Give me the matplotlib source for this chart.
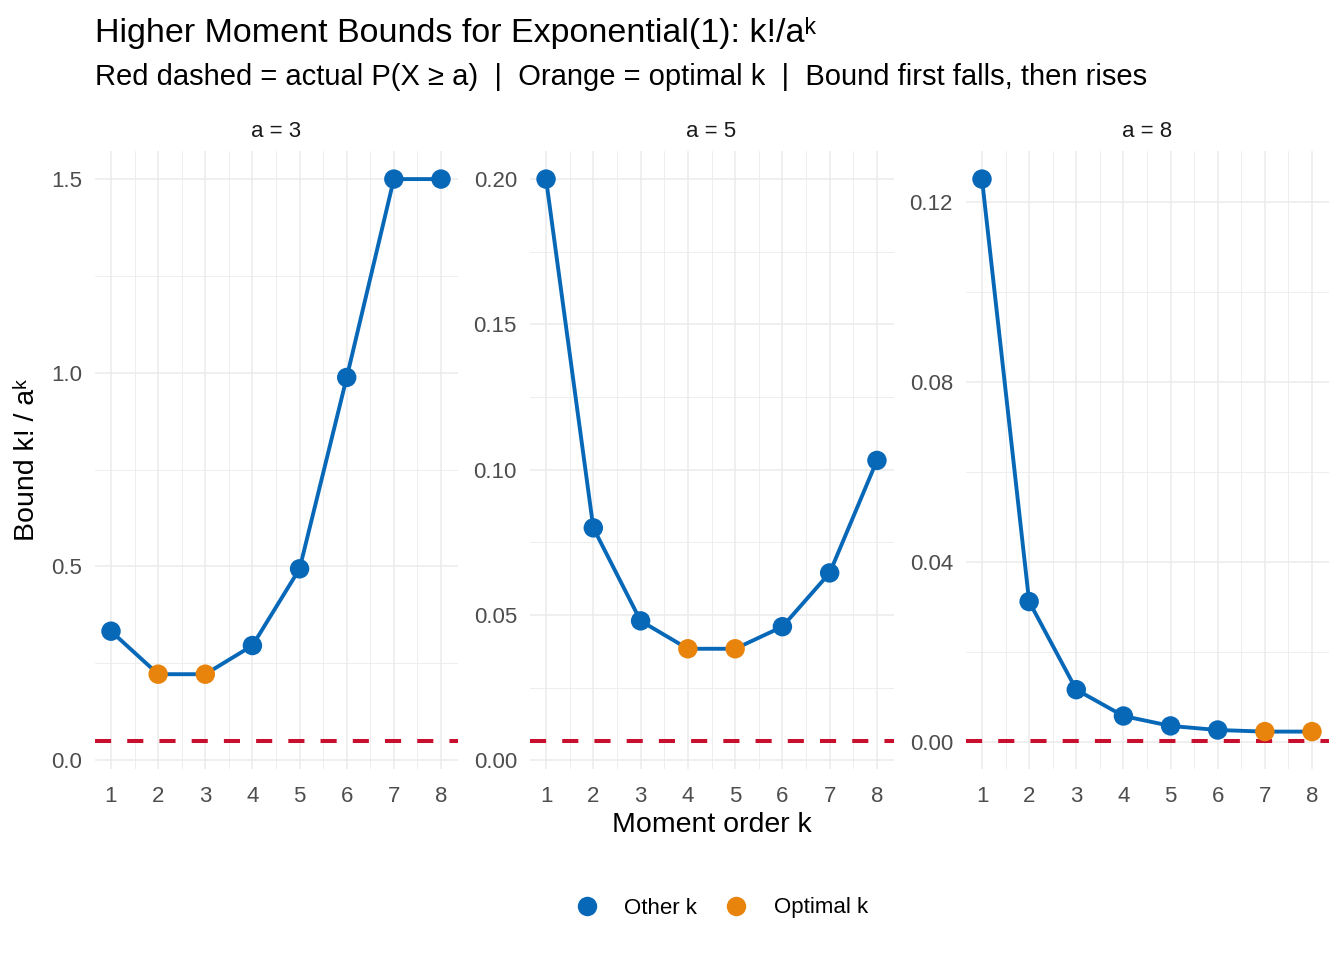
import matplotlib
matplotlib.use("Agg")
import matplotlib.pyplot as plt
from matplotlib.lines import Line2D
from matplotlib.ticker import FixedLocator

plt.rcParams['font.family'] = ['Liberation Sans', 'DejaVu Sans']

# data
k_values = [1, 2, 3, 4, 5, 6, 7, 8]
a_values = [3, 5, 8]
bound_a3 = [0.333, 0.222, 0.222, 0.296, 0.494, 0.988, 1.5, 1.5]
bound_a5 = [0.2, 0.08, 0.048, 0.0384, 0.0384, 0.046, 0.0645, 0.1032]
bound_a8 = [0.125, 0.03125, 0.0117, 0.00586, 0.00366, 0.00275, 0.0024, 0.0024]
actual_prob = [0.0498, 0.0067, 0.000335]
optimal_a3 = [2, 3]
optimal_a5 = [4, 5]
optimal_a8 = [7, 8]
y_ticks = [[0.0, 0.5, 1.0, 1.5], [0.0, 0.05, 0.10, 0.15, 0.20], [0.0, 0.04, 0.08, 0.12]]
y_fmt = ["{:.1f}", "{:.2f}", "{:.2f}"]

BLUE = "#0868B8"
ORANGE = "#E8830C"
RED = "#C8102E"
GRID = "#EBEBEB"

W, H = 1344, 960
fig = plt.figure(figsize=(W / 100, H / 100), dpi=100)

panels_x = [(94.5, 457.5), (529.5, 893.5), (965.5, 1328.5)]
top, bottom = 151, 769

bounds = [bound_a3, bound_a5, bound_a8]
optimal = [optimal_a3, optimal_a5, optimal_a8]

for i, (x0, x1) in enumerate(panels_x):
    ax = fig.add_axes([x0 / W, (H - bottom) / H, (x1 - x0) / W, (bottom - top) / H])
    vals = bounds[i]
    lo = min(vals + [actual_prob[i]])
    hi = max(vals)
    pad = 0.05 * (hi - lo)
    ax.set_ylim(lo - pad, hi + pad)
    ax.set_xlim(1 - 0.35, 8 + 0.35)

    ax.set_xticks(k_values)
    ax.set_xticklabels([str(k) for k in k_values])
    ax.xaxis.set_minor_locator(FixedLocator([k + 0.5 for k in k_values[:-1]]))
    yt = y_ticks[i]
    ax.set_yticks(yt)
    ax.set_yticklabels([y_fmt[i].format(v) for v in yt])
    step = yt[1] - yt[0]
    ax.yaxis.set_minor_locator(FixedLocator([v + step / 2 for v in yt]))

    ax.grid(which='major', color=GRID, lw=1.1)
    ax.grid(which='minor', color=GRID, lw=0.6)
    ax.set_axisbelow(True)
    for s in ax.spines.values():
        s.set_visible(False)
    ax.tick_params(which='both', length=0)
    ax.tick_params(axis='x', pad=12, labelsize=16, labelcolor="#4D4D4D")
    ax.tick_params(axis='y', pad=9, labelsize=16, labelcolor="#4D4D4D")

    ax.axhline(actual_prob[i], color=RED, lw=2.9, dashes=(4, 4), zorder=2)
    ax.plot(k_values, vals, color=BLUE, lw=2.8, zorder=3)
    cols = [ORANGE if k in optimal[i] else BLUE for k in k_values]
    ax.scatter(k_values, vals, s=14 ** 2, c=cols, zorder=4, linewidths=0)

    ax.set_title(f"a = {a_values[i]}", fontsize=16, pad=10, color="#1A1A1A")

fig.text(95 / W, 1 - 42 / H, "Higher Moment Bounds for Exponential(1): k!/aᵏ",
         fontsize=24.5, ha='left', va='baseline')
fig.text(95 / W, 1 - 85 / H,
         "Red dashed = actual P(X ≥ a)  |  Orange = optimal k  |  Bound first falls, then rises",
         fontsize=21, ha='left', va='baseline')
fig.text(27 / W, 1 - 460 / H, "Bound k! / aᵏ", fontsize=20.5, rotation=90,
         ha='center', va='center')
fig.text(711.5 / W, 1 - 825 / H, "Moment order k", fontsize=20.5, ha='center', va='center')

handles = [Line2D([], [], ls='none', marker='o', ms=14, color=BLUE, mec='none'),
           Line2D([], [], ls='none', marker='o', ms=14, color=ORANGE, mec='none')]
fig.legend(handles, ["Other k", "Optimal k"], loc='center', bbox_to_anchor=(719 / W, 1 - 908 / H),
           ncol=2, frameon=False, fontsize=16, handletextpad=0.95, columnspacing=1.0,
           handlelength=1.5)

fig.savefig("out.png", dpi=100, facecolor='white')
